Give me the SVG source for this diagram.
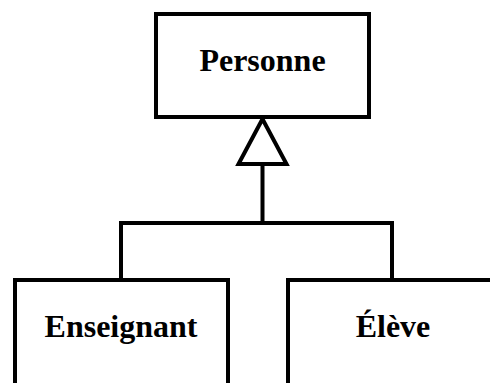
<svg xmlns="http://www.w3.org/2000/svg" width="490" height="383" viewBox="0 0 490 383">
  <style>
    .box { fill: #fff; stroke: #000; stroke-width: 4; }
    .lbl { font-family: "Liberation Serif", "Times New Roman", serif; font-weight: bold; font-size: 32px; fill: #000; text-anchor: middle; }
    .wire { fill: none; stroke: #000; stroke-width: 4; }
    .head { fill: #fff; stroke: #000; stroke-width: 4; stroke-linejoin: miter; }
  </style>
  <rect width="490" height="383" fill="#fff"/>
  <g id="connectors">
    <path class="wire" d="M262.5 165 V223 M121 279 V223 H392 V279"/>
    <polygon class="head" points="262.5,119 238.5,164 286.5,164"/>
  </g>
  <g id="personne">
    <rect class="box" x="156" y="14" width="213" height="103"/>
    <text class="lbl" x="262.5" y="71">Personne</text>
  </g>
  <g id="enseignant">
    <rect class="box" x="15" y="280" width="213" height="110"/>
    <text class="lbl" x="121" y="337">Enseignant</text>
  </g>
  <g id="eleve">
    <rect class="box" x="288" y="280" width="213" height="110"/>
    <text class="lbl" x="393" y="337">Élève</text>
  </g>
</svg>
